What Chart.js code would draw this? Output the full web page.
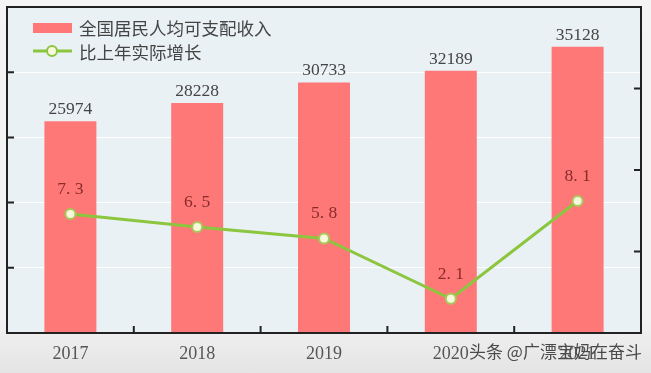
<!DOCTYPE html>
<html>
<head>
<meta charset="utf-8">
<script src="https://cdn.jsdelivr.net/npm/chart.js@4/dist/chart.umd.min.js"></script>
<style>
    html, body { margin: 0; padding: 0; }
    body { width: 651px; height: 373px; background: linear-gradient(#f4f4f4 0%, #f3f3f3 85%, #e4e4e4 100%); }
    #wrap { position: relative; width: 651px; height: 373px; }
</style>
</head>
<body>
<div id="wrap"><canvas id="chart" width="651" height="373"></canvas></div>
<script>
const years = ['2017', '2018', '2019', '2020', '2021'];
const income = [25974, 28228, 30733, 32189, 35128];
const growth = [7.3, 6.5, 5.8, 2.1, 8.1];
const incomeLabel = '全国居民人均可支配收入';
const growthLabel = '比上年实际增长';
const watermark = '头条 @广漂宝妈在奋斗';

const serif = "'Liberation Serif', 'DejaVu Serif', serif";
const cjk = "'Noto Sans CJK SC', sans-serif";

// plot frame, inward ticks, value labels, legend
const decor = {
    id: 'decor',
    beforeDraw(chart) {
        const { ctx, chartArea: a } = chart;
        ctx.save();
        ctx.fillStyle = '#eaf1f5';
        ctx.fillRect(a.left, a.top, a.right - a.left, a.bottom - a.top);
        ctx.restore();
    },
    afterDraw(chart) {
        const { ctx, chartArea: a, scales } = chart;
        ctx.save();
        ctx.strokeStyle = '#222';
        ctx.lineWidth = 2;
        ctx.strokeRect(a.left, a.top, a.right - a.left, a.bottom - a.top);

        ctx.beginPath();
        scales.y.ticks.forEach((t, i) => {
            const y = scales.y.getPixelForTick(i);
            if (y > a.top + 2 && y < a.bottom - 2) { ctx.moveTo(a.left, y); ctx.lineTo(a.left + 7, y); }
        });
        scales.y1.ticks.forEach((t, i) => {
            const y = scales.y1.getPixelForTick(i);
            if (y > a.top + 2 && y < a.bottom - 2) { ctx.moveTo(a.right, y); ctx.lineTo(a.right - 7, y); }
        });
        for (let i = 0; i < years.length - 1; i++) {
            const x = (scales.x.getPixelForValue(i) + scales.x.getPixelForValue(i + 1)) / 2;
            ctx.moveTo(x, a.bottom); ctx.lineTo(x, a.bottom - 7);
        }
        ctx.stroke();

        // bar values
        ctx.textAlign = 'center';
        ctx.textBaseline = 'bottom';
        ctx.font = '17.5px ' + serif;
        ctx.fillStyle = '#454545';
        chart.getDatasetMeta(1).data.forEach((bar, i) => {
            ctx.fillText(String(income[i]), bar.x, bar.y - 3);
        });
        // growth values
        ctx.fillStyle = '#8a2b2b';
        chart.getDatasetMeta(0).data.forEach((pt, i) => {
            ctx.fillText(growth[i].toFixed(1).replace('.', '. '), pt.x, pt.y - 16);
        });

        // legend
        ctx.fillStyle = '#ff7777';
        ctx.fillRect(33, 23, 39, 10);
        ctx.strokeStyle = '#8cc63f';
        ctx.lineWidth = 3;
        ctx.beginPath();
        ctx.moveTo(33, 51); ctx.lineTo(72, 51);
        ctx.stroke();
        ctx.beginPath();
        ctx.arc(52, 51, 5, 0, Math.PI * 2);
        ctx.fillStyle = '#f8f8dc';
        ctx.fill();
        ctx.lineWidth = 2;
        ctx.stroke();
        ctx.textAlign = 'left';
        ctx.textBaseline = 'middle';
        ctx.fillStyle = '#444';
        ctx.font = '17.5px ' + cjk;
        ctx.fillText(incomeLabel, 79, 28);
        ctx.fillText(growthLabel, 79, 52);

        // watermark
        ctx.font = '17px ' + cjk;
        ctx.fillStyle = '#4a4a4a';
        ctx.fillText(watermark, 469, 352);
        ctx.restore();
    }
};

new Chart(document.getElementById('chart'), {
    data: {
        labels: years,
        datasets: [
            {
                type: 'line',
                label: growthLabel,
                data: growth,
                yAxisID: 'y1',
                borderColor: '#8cc63f',
                borderWidth: 3,
                pointRadius: 5,
                pointBorderWidth: 2,
                pointBackgroundColor: '#f8f8dc',
                pointBorderColor: '#a8c85a',
                tension: 0,
                order: 0
            },
            {
                type: 'bar',
                label: incomeLabel,
                data: income,
                yAxisID: 'y',
                backgroundColor: '#ff7878',
                barPercentage: 0.41,
                categoryPercentage: 1.0,
                order: 1
            }
        ]
    },
    options: {
        responsive: false,
        animation: false,
        layout: { padding: { left: 3, right: 10, top: 3, bottom: 0 } },
        plugins: { legend: { display: false }, tooltip: { enabled: false } },
        scales: {
            x: {
                offset: true,
                grid: { display: false, drawTicks: false },
                border: { display: false },
                ticks: { color: '#555', font: { family: serif, size: 18 }, padding: 10 },
                afterFit(s) { s.height = 40; }
            },
            y: {
                position: 'left',
                min: 0, max: 40000,
                ticks: { display: false, stepSize: 8000 },
                grid: { color: '#ffffff', lineWidth: 1, drawTicks: false },
                border: { display: false },
                afterFit(s) { s.width = 0; }
            },
            y1: {
                position: 'right',
                min: 0, max: 20,
                ticks: { display: false, stepSize: 5 },
                grid: { display: false, drawTicks: false },
                border: { display: false },
                afterFit(s) { s.width = 0; }
            }
        }
    },
    plugins: [decor]
});
</script>
</body>
</html>
